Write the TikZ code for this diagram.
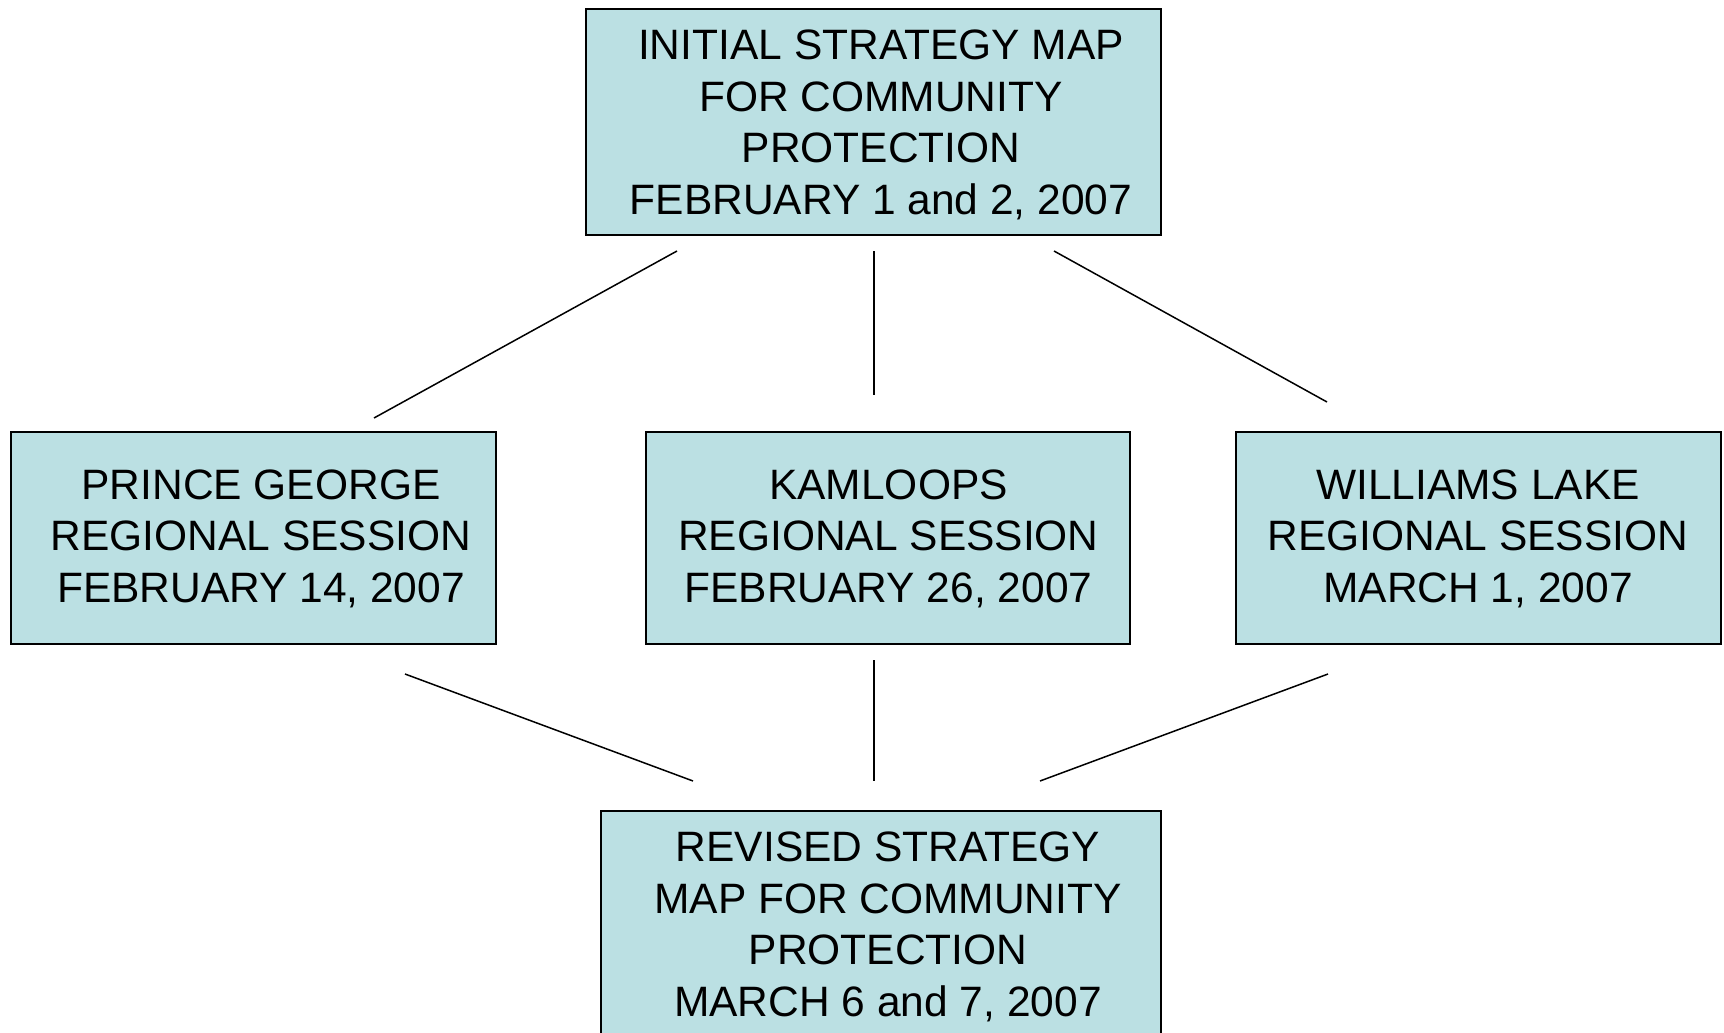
\documentclass[tikz,border=0pt]{standalone}
\usepackage{fontspec}
\setmainfont{Liberation Sans}
\definecolor{boxfill}{HTML}{BBE0E3}
\begin{document}
\begin{tikzpicture}[x=1pt,y=-1pt,
  box/.style={draw=black, line width=1.6pt, fill=boxfill, rectangle, inner sep=0pt},
  txt/.style={align=center, font=\fontsize{42.5}{51.5}\selectfont, inner sep=0pt},
  conn/.style={draw=black, line width=1.5pt}]
\useasboundingbox (0,0) rectangle (1724,1033);
\clip (0,0) rectangle (1724,1033);
% boxes
\node[box, minimum width=575pt, minimum height=226pt] (top) at (873.5,122) {};
\node[box, minimum width=485pt, minimum height=212pt] (pg) at (253.5,538) {};
\node[box, minimum width=484pt, minimum height=212pt] (ka) at (888,538) {};
\node[box, minimum width=485pt, minimum height=212pt] (wl) at (1478.5,538) {};
\node[box, minimum width=560pt, minimum height=300pt] (rev) at (881,961) {};
% texts
\node[txt] (toptext) at (881,125) {INITIAL STRATEGY MAP\\FOR COMMUNITY\\PROTECTION\\FEBRUARY 1 and 2, 2007};
\node[txt] (pgtext) at (261,538.5) {PRINCE GEORGE\\REGIONAL SESSION\\FEBRUARY 14, 2007};
\node[txt] (katext) at (888.5,538.5) {KAMLOOPS\\REGIONAL SESSION\\FEBRUARY 26, 2007};
\node[txt] (wltext) at (1478,538.5) {WILLIAMS LAKE\\REGIONAL SESSION\\MARCH 1, 2007};
\node[txt] (revtext) at (888,927) {REVISED STRATEGY\\MAP FOR COMMUNITY\\PROTECTION\\MARCH 6 and 7, 2007};
% connector end points
\coordinate (t1) at (677,251);
\coordinate (t2) at (874,251);
\coordinate (t3) at (1054,251);
\coordinate (m1) at (374,418);
\coordinate (m2) at (874,395);
\coordinate (m3) at (1327,402);
\coordinate (b1) at (405,674);
\coordinate (b2) at (874,660);
\coordinate (b3) at (1328,674);
\coordinate (r1) at (693,781);
\coordinate (r2) at (874,781);
\coordinate (r3) at (1040,781);
\draw[conn] (t1) -- (m1);
\draw[conn] (t2) -- (m2);
\draw[conn] (t3) -- (m3);
\draw[conn] (b1) -- (r1);
\draw[conn] (b2) -- (r2);
\draw[conn] (b3) -- (r3);
\end{tikzpicture}
\end{document}
